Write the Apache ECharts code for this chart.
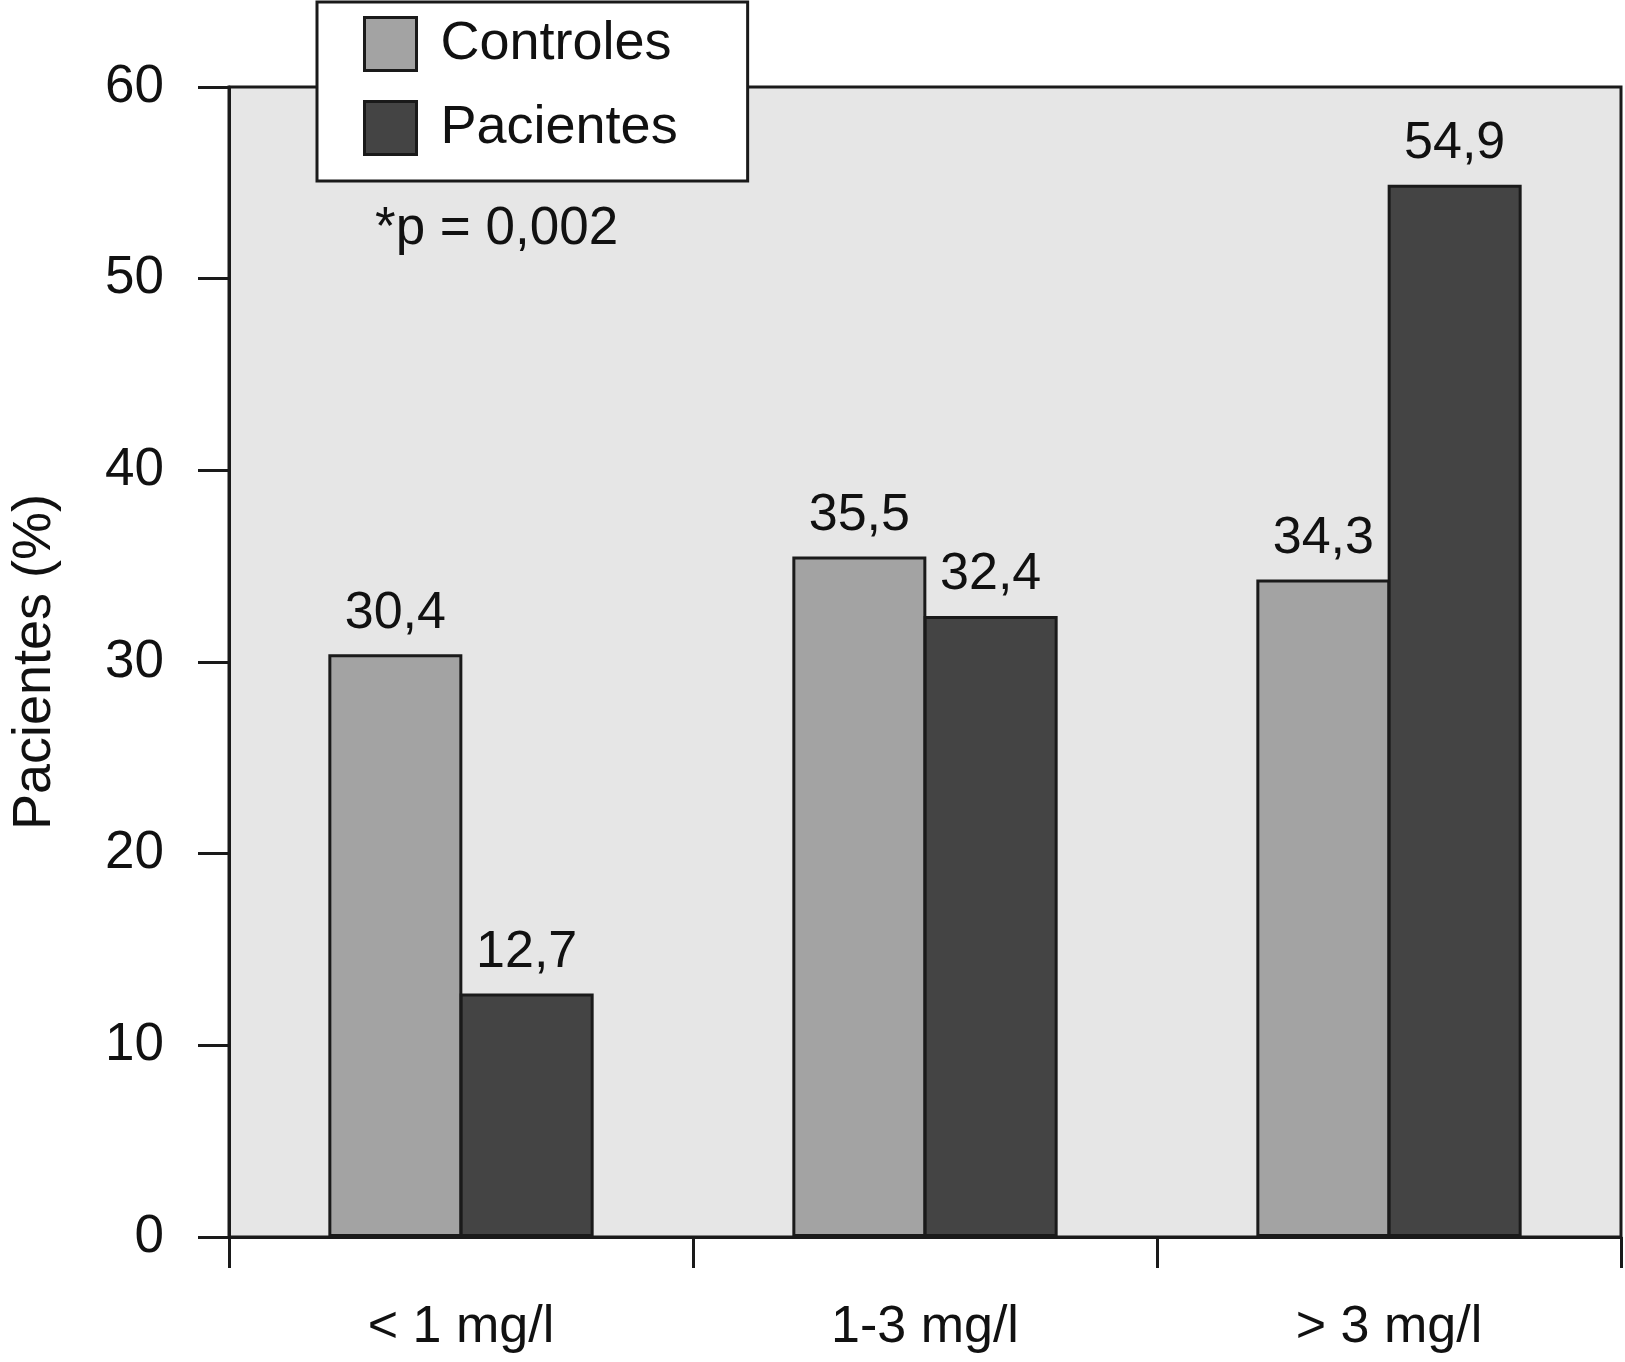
<!DOCTYPE html>
<html>
<head>
<meta charset="utf-8">
<script src="https://cdn.jsdelivr.net/npm/echarts@6/dist/echarts.min.js"></script>
<style>
html,body{margin:0;padding:0;background:#fff;}
#chart{width:1625px;height:1362px;}
</style>
</head>
<body>
<div id="chart"></div>
<script>
const categories = ['< 1 mg/l', '1-3 mg/l', '> 3 mg/l'];
const seriesNames = ['Controles', 'Pacientes'];
const controles = [30.4, 35.5, 34.3];
const pacientes = [12.7, 32.4, 54.9];
const yTicks = [0, 10, 20, 30, 40, 50, 60];
const yAxisTitle = 'Pacientes (%)';
const annotation = '*p = 0,002';

const FONT = '"Liberation Sans", Arial, Helvetica, sans-serif';
const INK = '#111111';
const fmt = v => String(v).replace('.', ',');

const chart = echarts.init(document.getElementById('chart'), null, {renderer: 'canvas'});

const labelCfg = {
  show: true,
  position: 'top',
  distance: 15,
  fontFamily: FONT,
  fontSize: 52,
  lineHeight: 52,
  color: INK,
  formatter: p => fmt(p.value)
};

chart.setOption({
  animation: false,
  backgroundColor: '#ffffff',
  grid: {
    left: 220, right: 4, top: 87, bottom: 125,
    show: true,
    backgroundColor: '#e6e6e6',
    borderColor: '#1a1a1a',
    borderWidth: 3
  },
  legend: {
    orient: 'vertical',
    left: 317, top: 2,
    data: seriesNames.map(n => ({name: n, icon: 'rect'})),
    itemWidth: 52, itemHeight: 53, itemGap: 28,
    padding: [14, 70, 25, 46],
    backgroundColor: '#ffffff',
    borderColor: '#1a1a1a',
    borderWidth: 3,
    borderRadius: 0,
    itemStyle: {borderColor: '#1a1a1a', borderWidth: 3},
    textStyle: {fontFamily: FONT, fontSize: 54, color: INK, padding: [0, 0, 0, 19]},
    selectedMode: false
  },
  xAxis: {
    type: 'category',
    data: categories,
    boundaryGap: true,
    axisLine: {lineStyle: {color: '#1a1a1a', width: 3}},
    axisTick: {show: true, alignWithLabel: false, length: 31, lineStyle: {color: '#1a1a1a', width: 3}},
    axisLabel: {fontFamily: FONT, fontSize: 52, color: INK, margin: 65, lineHeight: 52},
    splitLine: {show: false}
  },
  yAxis: {
    type: 'value',
    min: yTicks[0], max: yTicks[yTicks.length - 1], interval: 10,
    name: yAxisTitle,
    nameLocation: 'middle',
    nameGap: 167,
    nameTextStyle: {fontFamily: FONT, fontSize: 54, color: INK},
    axisLine: {show: true, lineStyle: {color: '#1a1a1a', width: 3}},
    axisTick: {show: true, length: 31, lineStyle: {color: '#1a1a1a', width: 3}},
    axisLabel: {fontFamily: FONT, fontSize: 53, color: INK, margin: 65},
    splitLine: {show: false}
  },
  graphic: [{
    type: 'text',
    left: 375, top: 203,
    style: {text: annotation, font: '53px ' + FONT, fill: INK}
  }],
  series: [
    {
      name: seriesNames[0], type: 'bar', data: controles,
      barWidth: 134, barGap: '-2%',
      itemStyle: {color: '#a3a3a3', borderColor: '#1a1a1a', borderWidth: 3},
      label: labelCfg
    },
    {
      name: seriesNames[1], type: 'bar', data: pacientes,
      barWidth: 134, barGap: '-2%',
      itemStyle: {color: '#444444', borderColor: '#1a1a1a', borderWidth: 3},
      label: labelCfg
    }
  ]
});
</script>
</body>
</html>
